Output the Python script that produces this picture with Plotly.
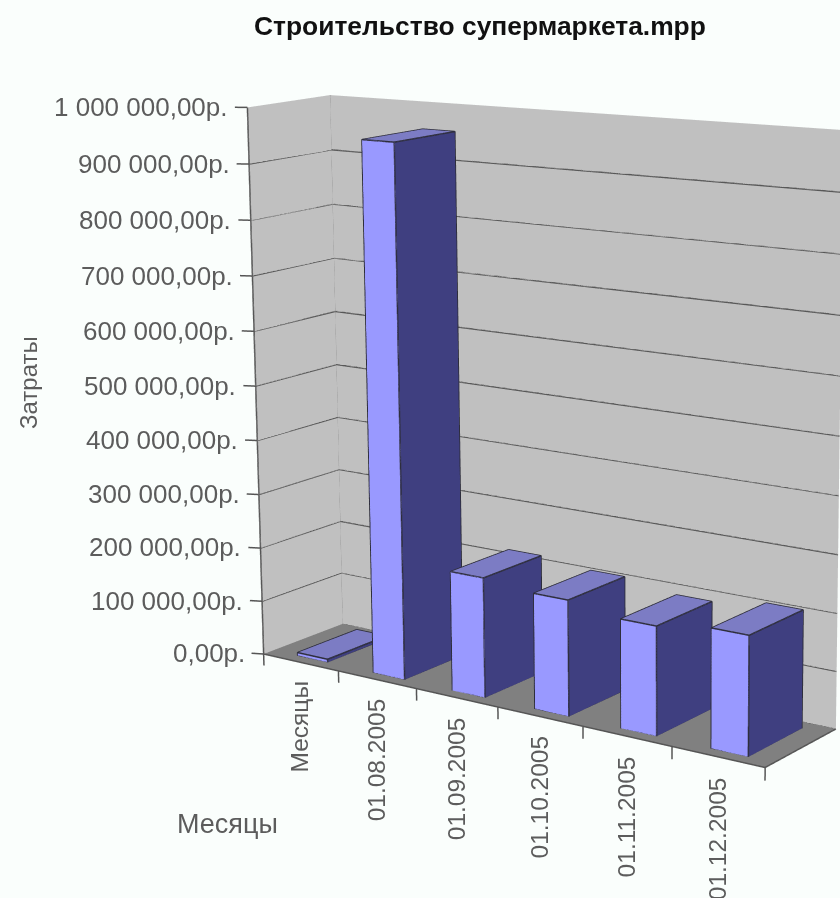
import numpy as np
import plotly.graph_objects as go

TITLE = "Строительство супермаркета.mpp"
categories = ["Месяцы", "01.08.2005", "01.09.2005", "01.10.2005", "01.11.2005", "01.12.2005"]
costs = [6000, 955000, 215000, 205000, 190000, 205000]
z_ticks = [0, 100000, 200000, 300000, 400000, 500000, 600000, 700000, 800000, 900000, 1000000]
z_labels = ["0,00р.", "100 000,00р.", "200 000,00р.", "300 000,00р.", "400 000,00р.", "500 000,00р.",
            "600 000,00р.", "700 000,00р.", "800 000,00р.", "900 000,00р.", "1 000 000,00р."]

XR = (-0.3, 6.1)
YR = (-0.1, 1.05)
ZR = (-30000, 1020000)

t=[5.4799,-7.6012,2.0995,-0.2543,-0.1511,0.1915,0.0125,0.0103,2.2536,0.5228,2.0946,2.8115,436.6830,356.6457]
eye=dict(x=t[0],y=t[1],z=t[2]);center=dict(x=t[3],y=t[4],z=t[5]);up=dict(x=t[6],y=t[7],z=1)
aspect=dict(x=t[8],y=t[9],z=t[10])
F,CX,CY=t[11]*1000,t[12],t[13]
H=2*F*np.tan(np.pi/8); W=H
H=round(H);W=round(W)
LEFT=round(CX-W/2);TOP=round(CY-H/2)

def px(x): return (x-LEFT)/W
def py(y): return 1-(y-TOP)/H

LIGHT="#9999ff";DARK="#3f3f80";TOP_C="#7c7cc4";EDGE="#2e2e3c";GRID="#585858"
TEXT="#5c5c5c"
def mesh(xs,ys,zs,i,j,k,col):
    return go.Mesh3d(x=xs,y=ys,z=zs,i=i,j=j,k=k,color=col,flatshading=True,hoverinfo="skip",
        lighting=dict(ambient=1,diffuse=0,specular=0,roughness=1,fresnel=0),showscale=False)
def quad(p,col):
    p=np.array(p,float)
    return mesh(p[:,0],p[:,1],p[:,2],[0,0],[1,2],[2,3],col)
def lines(segs,col,w):
    xs,ys,zs=[],[],[]
    for s in segs:
        for q in s:
            xs.append(q[0]);ys.append(q[1]);zs.append(q[2])
        xs.append(None);ys.append(None);zs.append(None)
    return go.Scatter3d(x=xs,y=ys,z=zs,mode="lines",line=dict(color=col,width=w),hoverinfo="skip",showlegend=False)
N=len(categories);Zt=z_ticks[-1]
traces=[
 quad([(0,0,0),(N,0,0),(N,1,0),(0,1,0)],"#808080"),
 quad([(0,0,0),(0,1,0),(0,1,Zt),(0,0,Zt)],"#c0c0c0"),
 quad([(0,1,0),(N,1,0),(N,1,Zt),(0,1,Zt)],"#c0c0c0"),
]
traces.append(lines([[(0,0,v),(0,1,v),(N,1,v)] for v in z_ticks[1:-1]],GRID,3))
traces.append(lines([[(0,1,0),(0,1,Zt)]],"#9a9a9a",3))
traces.append(lines([[(0,0,0),(0,0,Zt)],[(0,0,0),(N,0,0),(N,1,0)],[(0,1,0),(N,1,0)]],"#555555",3))
traces.append(lines([[(0,0,v),(-0.12,-0.04,v)] for v in z_ticks],"#555555",3))
traces.append(lines([[(i,0,0),(i,0,-22000)] for i in range(N+1)],"#555555",3))
X0=0.33;X1=0.73;Y0=0.12;Y1=0.87
for i,v in enumerate(costs):
    x0,x1=i+X0,i+X1
    traces.append(quad([(x0,Y0,0),(x1,Y0,0),(x1,Y0,v),(x0,Y0,v)],LIGHT))
    traces.append(quad([(x1,Y0,0),(x1,Y1,0),(x1,Y1,v),(x1,Y0,v)],DARK))
    traces.append(quad([(x0,Y0,v),(x1,Y0,v),(x1,Y1,v),(x0,Y1,v)],TOP_C))
    traces.append(lines([[(x0,Y0,0),(x1,Y0,0),(x1,Y1,0),(x1,Y1,v),(x0,Y1,v),(x0,Y0,v),(x0,Y0,0)],
                         [(x1,Y0,0),(x1,Y0,v),(x0,Y0,v)],[(x1,Y0,v),(x1,Y1,v)]],EDGE,3))
ann=[dict(x=-0.12,y=-0.04,z=v,text=l,showarrow=False,xanchor="right",yanchor="middle",xshift=-5,
          font=dict(family="Liberation Sans",size=26,color=TEXT)) for v,l in zip(z_ticks,z_labels)]
ann+=[dict(x=i+0.5,y=0,z=-22000,text=c,showarrow=False,textangle=-90,xanchor="center",yanchor="top",yshift=-5,xshift=-1,
          font=dict(family="Liberation Sans",size=24.5,color=TEXT)) for i,c in enumerate(categories)]
fig=go.Figure(traces)
fig.update_layout(width=W,height=H,margin=dict(l=0,r=0,t=0,b=0),paper_bgcolor="#fafefc",showlegend=False,
  scene=dict(domain=dict(x=[0,1],y=[0,1]),aspectmode="manual",aspectratio=aspect,dragmode="orbit",
    camera=dict(eye=eye,center=center,up=up,projection=dict(type="perspective")),
    xaxis=dict(visible=False,range=list(XR)),yaxis=dict(visible=False,range=list(YR)),zaxis=dict(visible=False,range=list(ZR)),
    bgcolor="rgba(0,0,0,0)",annotations=ann),
  annotations=[
   dict(xref="paper",yref="paper",x=px(480),y=py(26),xanchor="center",yanchor="middle",text=f"<b>{TITLE}</b>",showarrow=False,font=dict(family="Liberation Sans",size=26.4,color="#111111")),
   dict(xref="paper",yref="paper",x=px(28),y=py(383),xanchor="center",yanchor="middle",text="Затраты",textangle=-90,showarrow=False,font=dict(family="Liberation Sans",size=24,color=TEXT)),
   dict(xref="paper",yref="paper",x=px(227),y=py(824),xanchor="center",yanchor="middle",text="Месяцы",showarrow=False,font=dict(family="Liberation Sans",size=27,color=TEXT)),
  ])
post=f"""var g=document.getElementById('{{plot_id}}');g.style.position='absolute';g.style.left='{LEFT}px';g.style.top='{TOP}px';
document.body.style.margin='0';document.body.style.overflow='hidden';document.documentElement.style.overflow='hidden';"""
fig.write_html("out.html",post_script=post)
